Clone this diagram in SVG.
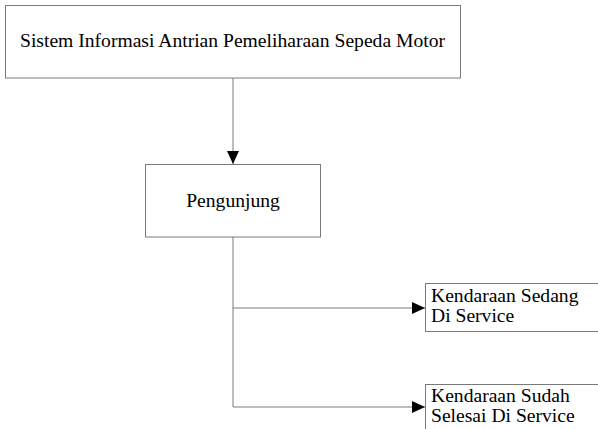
<svg xmlns="http://www.w3.org/2000/svg" width="598" height="429" viewBox="0 0 598 429">
<style>
.box{fill:#fff;stroke:#7a7a7a;stroke-width:1}
.conn{fill:none;stroke:#7a7a7a;stroke-width:1}
.t{font-family:'Liberation Serif','DejaVu Serif',serif;font-size:19.6px;fill:#000}
</style>
<defs>
<marker id="arr" markerUnits="userSpaceOnUse" markerWidth="13" markerHeight="12" refX="13" refY="6" orient="auto">
<path d="M0,0 L13,6 L0,12 Z" fill="#000"/>
</marker>
</defs>
<rect width="598" height="429" fill="#fff"/>
<g id="connectors">
<path class="conn" d="M233,78 V164" marker-end="url(#arr)"/>
<path class="conn" d="M233,237 V407 H425" marker-end="url(#arr)"/>
<path class="conn" d="M233,308 H425" marker-end="url(#arr)"/>
</g>
<g id="node-sistem">
<rect class="box" x="5.5" y="5.5" width="455" height="72.5"/>
<text class="t" x="232.5" y="47" text-anchor="middle" font-family="Liberation Serif, serif">Sistem Informasi Antrian Pemeliharaan Sepeda Motor</text>
</g>
<g id="node-pengunjung">
<rect class="box" x="145.5" y="164.5" width="175" height="72.5"/>
<text class="t" x="233" y="206.5" text-anchor="middle" font-family="Liberation Serif, serif">Pengunjung</text>
</g>
<g id="node-sedang">
<rect class="box" x="425.5" y="283.5" width="180" height="48"/>
<text class="t" x="431" y="301.5" font-family="Liberation Serif, serif">Kendaraan Sedang</text>
<text class="t" x="431" y="321.5" font-family="Liberation Serif, serif">Di Service</text>
</g>
<g id="node-sudah">
<rect class="box" x="425.5" y="384.5" width="180" height="60"/>
<text class="t" x="431" y="401.5" font-family="Liberation Serif, serif">Kendaraan Sudah</text>
<text class="t" x="431" y="421.5" font-family="Liberation Serif, serif">Selesai Di Service</text>
</g>
</svg>
